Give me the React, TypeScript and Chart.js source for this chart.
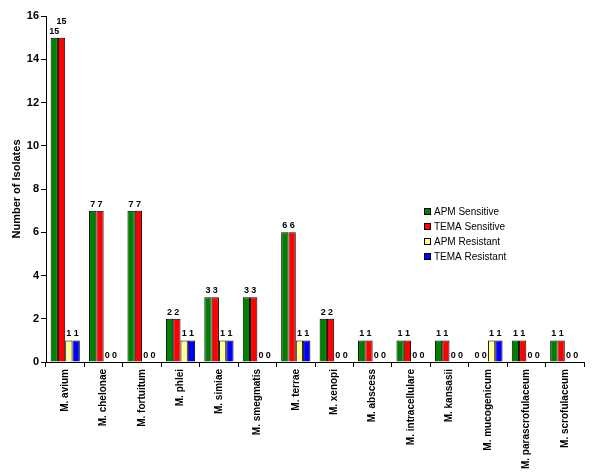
import React, { useEffect, useRef } from "react";
import { Chart, registerables } from "chart.js";

Chart.register(...registerables);

const categories = [
  "M. avium",
  "M. chelonae",
  "M. fortuitum",
  "M. phlei",
  "M. simiae",
  "M. smegmatis",
  "M. terrae",
  "M. xenopi",
  "M. abscess",
  "M. intracellulare",
  "M. kansasii",
  "M. mucogenicum",
  "M. parascrofulaceum",
  "M. scrofulaceum",
];

const apmSensitive = [15, 7, 7, 2, 3, 3, 6, 2, 1, 1, 1, 0, 1, 1];
const temaSensitive = [15, 7, 7, 2, 3, 3, 6, 2, 1, 1, 1, 0, 1, 1];
const apmResistant = [1, 0, 0, 1, 1, 0, 1, 0, 0, 0, 0, 1, 0, 0];
const temaResistant = [1, 0, 0, 1, 1, 0, 1, 0, 0, 0, 0, 1, 0, 0];

const seriesNames = ["APM Sensitive", "TEMA Sensitive", "APM Resistant", "TEMA Resistant"];
const seriesColors = ["#008000", "#FF0000", "#FFFF99", "#0000FF"];

const yTicks = [0, 2, 4, 6, 8, 10, 12, 14, 16];

const FONT = "'Liberation Sans', Arial, Helvetica, sans-serif";

const valueLabelPlugin = {
  id: "valueLabels",
  afterDatasetsDraw(chart: any) {
    const ctx = chart.ctx;
    ctx.save();
    ctx.font = `bold 9px ${FONT}`;
    ctx.fillStyle = "#000";
    ctx.textAlign = "center";
    ctx.textBaseline = "alphabetic";
    chart.data.datasets.forEach((ds: any, di: number) => {
      const meta = chart.getDatasetMeta(di);
      meta.data.forEach((bar: any, i: number) => {
        const v = ds.data[i];
        const text = String(v);
        const w = ctx.measureText(text).width;
        let y = bar.y - 4;
        if (di % 2 === 1 && w > bar.width) y -= 10;
        ctx.fillText(text, bar.x, y);
      });
    });
    ctx.restore();
  },
};

const legendPlugin = {
  id: "customLegend",
  afterDraw(chart: any) {
    const ctx = chart.ctx;
    ctx.save();
    ctx.font = `10px ${FONT}`;
    ctx.textBaseline = "middle";
    ctx.textAlign = "left";
    const x0 = 424;
    const y0 = 212;
    chart.data.datasets.forEach((ds: any, i: number) => {
      const y = y0 + i * 15;
      ctx.fillStyle = ds.backgroundColor;
      ctx.fillRect(x0 + 0.5, y - 3.5, 6, 6);
      ctx.strokeStyle = "#000";
      ctx.lineWidth = 1;
      ctx.strokeRect(x0 + 0.5, y - 3.5, 6, 6);
      ctx.fillStyle = "#000";
      ctx.fillText(ds.label, x0 + 10, y);
    });
    ctx.restore();
  },
};

export default function App() {
  const ref = useRef<HTMLCanvasElement | null>(null);

  useEffect(() => {
    if (!ref.current) return;
    const values = [apmSensitive, temaSensitive, apmResistant, temaResistant];
    const chart = new Chart(ref.current, {
      type: "bar",
      data: {
        labels: categories,
        datasets: values.map((d, i) => ({
          label: seriesNames[i],
          data: d,
          backgroundColor: seriesColors[i],
          borderColor: "#000",
          borderWidth: 1,
          categoryPercentage: 0.76,
          barPercentage: 1,
        })),
      },
      options: {
        responsive: false,
        animation: false,
        layout: { padding: { top: 16, right: 16, left: 0, bottom: 0 } },
        plugins: {
          legend: { display: false },
          tooltip: { enabled: false },
        },
        scales: {
          x: {
            grid: {
              offset: true,
              drawOnChartArea: false,
              tickLength: 5,
              color: "#000",
            },
            border: { display: true, color: "#000", width: 1 },
            ticks: {
              autoSkip: false,
              minRotation: 90,
              maxRotation: 90,
              color: "#000",
              padding: 2,
              font: { family: FONT, size: 10, weight: "bold" },
            },
            afterFit(scale: any) {
              scale.height = 111;
            },
          },
          y: {
            min: 0,
            max: 16,
            afterBuildTicks(scale: any) {
              scale.ticks = yTicks.map((v) => ({ value: v }));
            },
            grid: {
              drawOnChartArea: false,
              tickLength: 5,
              color: "#000",
            },
            border: { display: true, color: "#000", width: 1 },
            ticks: {
              color: "#000",
              padding: 2,
              font: { family: FONT, size: 11, weight: "bold" },
            },
            title: {
              display: true,
              text: "Number of Isolates",
              color: "#000",
              padding: { top: 10, bottom: 0 },
              font: { family: FONT, size: 11, weight: "bold" },
            },
            afterFit(scale: any) {
              scale.width = 46;
            },
          },
        },
      },
      plugins: [valueLabelPlugin, legendPlugin],
    });
    return () => chart.destroy();
  }, []);

  return (
    <div style={{ position: "absolute", left: 0, top: 0, width: 600, height: 473, background: "#fff" }}>
      <canvas ref={ref} width={600} height={473} />
    </div>
  );
}
